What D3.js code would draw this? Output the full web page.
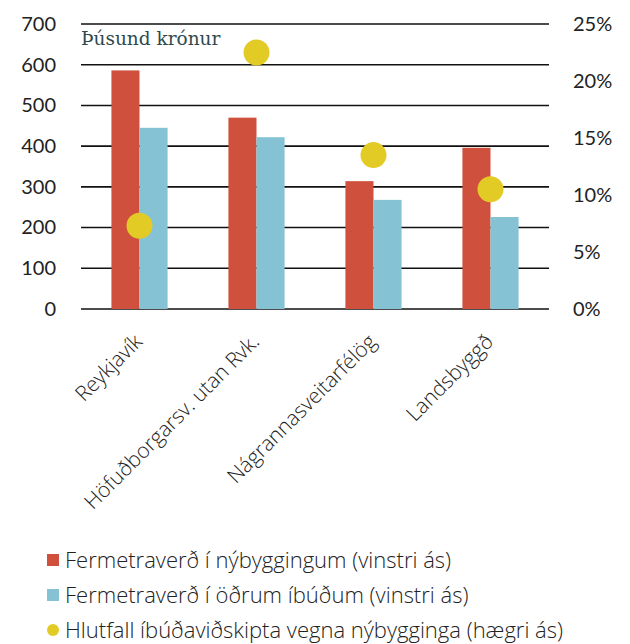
<!DOCTYPE html>
<html>
<head>
<meta charset="utf-8">
<script src="https://cdn.jsdelivr.net/npm/d3@7"></script>
<style>
  body { margin: 0; background: #fff; }
  svg { display: block; }
</style>
</head>
<body>
<svg id="chart" width="630" height="644"></svg>
<script>
'use strict';

let regions = ["Reykjavík", "Höfuðborgarsv. utan Rvk.", "Nágrannasveitarfélög", "Landsbyggð"]
let newBuildPrice = [586, 470, 314, 396]
let otherPrice = [445, 422, 268, 226]
let newBuildShare = [7.3, 22.5, 13.5, 10.5]
let leftTicks = [0, 100, 200, 300, 400, 500, 600, 700]
let rightTicks = [0, 5, 10, 15, 20, 25]
let seriesNames = [
    "Fermetraverð í nýbyggingum (vinstri ás)",
    "Fermetraverð í öðrum íbúðum (vinstri ás)",
    "Hlutfall íbúðaviðskipta vegna nýbygginga (hægri ás)"
]
let colors = ["#cf513d", "#85c3d4", "#e3cb26"]

let chart = (function() {
    let svg = d3.select("#chart")
    let margin = { left: 81, right: 81, top: 24, bottom: 335 }
    let width = +svg.attr("width")
    let height = +svg.attr("height")
    let plotBottom = height - margin.bottom

    let x0 = d3.scaleBand()
        .domain(regions)
        .range([margin.left, width - margin.right])
        .paddingInner(0.52)
        .paddingOuter(0.26)

    let x1 = d3.scaleBand()
        .domain([0, 1])
        .range([0, x0.bandwidth()])

    let yLeft = d3.scaleLinear().domain([0, 700]).range([plotBottom, margin.top])
    let yRight = d3.scaleLinear().domain([0, 25]).range([plotBottom, margin.top])

    // gridlines
    svg.append("g")
        .selectAll("line")
        .data(leftTicks)
        .enter().append("line")
        .attr("x1", margin.left)
        .attr("x2", width - margin.right)
        .attr("y1", d => yLeft(d))
        .attr("y2", d => yLeft(d))
        .attr("stroke", "#111")
        .attr("stroke-width", 1.6)

    // left axis
    let leftAxis = svg.append("g")
        .attr("transform", "translate(" + (margin.left - 25) + ",0)")
        .call(d3.axisLeft(yLeft).tickValues(leftTicks).tickSize(0).tickPadding(0))
    leftAxis.select(".domain").remove()
    leftAxis.selectAll("text")
        .attr("font-family", "Lato, sans-serif")
        .attr("font-size", 20)
        .attr("fill", "#222")

    // right axis
    let rightAxis = svg.append("g")
        .attr("transform", "translate(" + (width - margin.right + 24) + ",0)")
        .call(d3.axisRight(yRight).tickValues(rightTicks).tickSize(0).tickPadding(0)
            .tickFormat(d => d + "%"))
    rightAxis.select(".domain").remove()
    rightAxis.selectAll("text")
        .attr("font-family", "Lato, sans-serif")
        .attr("font-size", 20)
        .attr("fill", "#222")

    // bars
    let groups = svg.append("g")
        .selectAll("g")
        .data(regions)
        .enter().append("g")
        .attr("transform", d => "translate(" + x0(d) + ",0)")

    groups.selectAll("rect")
        .data((d, i) => [newBuildPrice[i], otherPrice[i]])
        .enter().append("rect")
        .attr("x", (d, j) => x1(j))
        .attr("width", x1.bandwidth())
        .attr("y", d => yLeft(d))
        .attr("height", d => yLeft(0) - yLeft(d))
        .attr("fill", (d, j) => colors[j])

    // share dots
    svg.append("g")
        .selectAll("circle")
        .data(newBuildShare)
        .enter().append("circle")
        .attr("cx", (d, i) => x0(regions[i]) + x0.bandwidth() / 2)
        .attr("cy", d => yRight(d))
        .attr("r", 13)
        .attr("fill", colors[2])

    // x labels
    svg.append("g")
        .selectAll("text")
        .data(regions)
        .enter().append("text")
        .attr("transform", d => "translate(" + (x0(d) + x0.bandwidth() / 2 + 4) + "," + (plotBottom + 34) + ") rotate(-45)")
        .attr("text-anchor", "end")
        .attr("font-family", "'Open Sans', sans-serif")
        .attr("font-weight", 300)
        .attr("font-size", 21)
        .attr("fill", "#222")
        .text(d => d)

    // unit note
    svg.append("text")
        .attr("x", margin.left)
        .attr("y", 45)
        .attr("font-family", "'DejaVu Serif', serif")
        .attr("font-size", 18.5)
        .attr("fill", "#2f4a4e")
        .text("Þúsund krónur")

    // legend
    let legend = svg.append("g")
        .selectAll("g")
        .data(seriesNames)
        .enter().append("g")
        .attr("transform", (d, i) => "translate(47," + (560 + i * 35) + ")")

    legend.each(function(d, i) {
        let g = d3.select(this)
        if (i < 2) {
            g.append("rect")
                .attr("x", 0).attr("y", -6)
                .attr("width", 12).attr("height", 12)
                .attr("fill", colors[i])
        } else {
            g.append("circle")
                .attr("cx", 6).attr("cy", 0)
                .attr("r", 6)
                .attr("fill", colors[i])
        }
    })

    legend.append("text")
        .attr("x", 18)
        .attr("dy", "0.35em")
        .attr("font-family", "'Open Sans', sans-serif")
        .attr("font-weight", 300)
        .attr("font-size", 22)
        .attr("fill", "#222")
        .text(d => d)
}())
</script>
</body>
</html>
